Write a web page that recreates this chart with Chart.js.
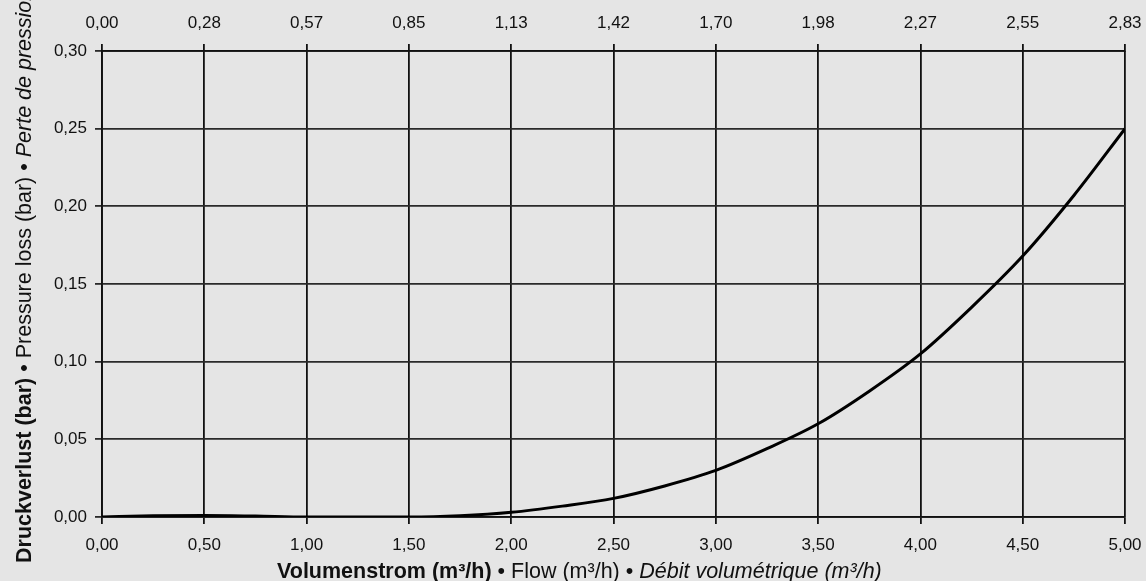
<!DOCTYPE html>
<html>
<head>
<meta charset="utf-8">
<script src="https://cdn.jsdelivr.net/npm/chart.js@4.4.1/dist/chart.umd.min.js"></script>
<style>
  html, body { margin: 0; padding: 0; background: #e5e5e5; }
  #wrap { width: 1146px; height: 581px; position: relative; }
</style>
</head>
<body>
<div id="wrap"><canvas id="grafico" width="1146" height="581"></canvas></div>
<script>
// Volumenstrom (m3/h) und Druckverlust (bar)
const volumenstrom = [0, 0.25, 0.5, 0.75, 1.0, 1.25, 1.5, 1.75, 2.0, 2.25, 2.5, 2.75, 3.0, 3.25, 3.5, 3.75, 4.0, 4.25, 4.5, 4.75, 5.0];
const druckverlust = [0, 0.0008, 0.001, 0.0006, 0, 0, 0, 0.0008, 0.003, 0.007, 0.012, 0.02, 0.03, 0.044, 0.06, 0.081, 0.105, 0.135, 0.168, 0.207, 0.25];
// obere Achse
const obereTicks = ['0,00', '0,28', '0,57', '0,85', '1,13', '1,42', '1,70', '1,98', '2,27', '2,55', '2,83'];

// schmale Schrift, falls vorhanden
const test = document.createElement('canvas').getContext('2d');
test.font = "18px 'Liberation Sans Narrow', monospace";
const w1 = test.measureText('0,00 1,13').width;
test.font = "18px monospace";
const w2 = test.measureText('0,00 1,13').width;
const hatNarrow = Math.abs(w1 - w2) > 0.5;
const schrift = hatNarrow ? "'Liberation Sans Narrow', sans-serif" : "'Liberation Sans', Arial, sans-serif";
const tickGroesse = hatNarrow ? 18 : 17;
const komma = v => v.toFixed(2).replace('.', ',');

// Achsentitel mit gemischten Schriftstilen
const titelPlugin = {
    id: 'titel',
    afterDraw(chart) {
        const ctx = chart.ctx;
        const xteile = [
            ['bold', 'Volumenstrom (m³/h)'],
            ['normal', ' • Flow (m³/h) • '],
            ['italic', 'Débit volumétrique (m³/h)']
        ];
        ctx.save();
        ctx.fillStyle = '#111';
        ctx.textBaseline = 'alphabetic';
        ctx.textAlign = 'left';
        let x = 277;
        xteile.forEach(([stil, txt]) => {
            ctx.font = stil + " 21.5px 'Liberation Sans', Arial, sans-serif";
            ctx.fillText(txt, x, 578);
            x += ctx.measureText(txt).width;
        });
        ctx.restore();

        const yteile = [
            ['bold', 'Druckverlust (bar)'],
            ['normal', ' • Pressure loss (bar) • '],
            ['italic', 'Perte de pression (bar)']
        ];
        ctx.save();
        ctx.fillStyle = '#111';
        ctx.translate(31, 563);
        ctx.rotate(-Math.PI / 2);
        let p = 0;
        yteile.forEach(([stil, txt]) => {
            ctx.font = stil + " 21.5px 'Liberation Sans', Arial, sans-serif";
            ctx.fillText(txt, p, 0);
            p += ctx.measureText(txt).width;
        });
        ctx.restore();
    }
};

const ctx = document.getElementById('grafico').getContext('2d');
window.myChart = new Chart(ctx, {
    type: 'line',
    data: {
        datasets: [{
            label: 'Druckverlust',
            data: volumenstrom.map((v, i) => ({ x: v, y: druckverlust[i] })),
            borderColor: '#000',
            borderWidth: 3,
            pointRadius: 0,
            cubicInterpolationMode: 'monotone',
            fill: false
        }]
    },
    options: {
        responsive: false,
        animation: false,
        layout: { padding: { left: 0, right: 21, top: 0, bottom: 0 } },
        plugins: { legend: { display: false }, tooltip: { enabled: false } },
        scales: {
            x: {
                type: 'linear', position: 'bottom', min: 0, max: 5,
                ticks: { stepSize: 0.5, callback: v => komma(v), color: '#111',
                         font: { family: schrift, size: tickGroesse }, padding: 11, maxRotation: 0 },
                grid: { color: '#111', lineWidth: 1.8, tickLength: 7 },
                border: { color: '#111', width: 1.8 },
                afterFit: s => { s.height = 64; s.paddingRight = 0; s.paddingLeft = 0; }
            },
            x2: {
                type: 'linear', position: 'top', min: 0, max: 5,
                ticks: { stepSize: 0.5, callback: (v, i) => obereTicks[i], color: '#111',
                         font: { family: schrift, size: tickGroesse }, padding: 10, maxRotation: 0 },
                grid: { drawOnChartArea: false, color: '#111', lineWidth: 1.8, tickLength: 7 },
                border: { color: '#111', width: 1.8 },
                afterFit: s => { s.height = 51; s.paddingRight = 0; s.paddingLeft = 0; }
            },
            y: {
                min: 0, max: 0.3,
                ticks: { stepSize: 0.05, callback: v => komma(v), color: '#111',
                         font: { family: schrift, size: tickGroesse }, padding: 8 },
                grid: { color: '#2a2a2a', lineWidth: 1.8, tickLength: 7 },
                border: { color: '#111', width: 1.8 },
                afterFit: s => { s.width = 102; s.paddingTop = 0; s.paddingBottom = 0; }
            }
        }
    },
    plugins: [titelPlugin]
});
</script>
</body>
</html>
